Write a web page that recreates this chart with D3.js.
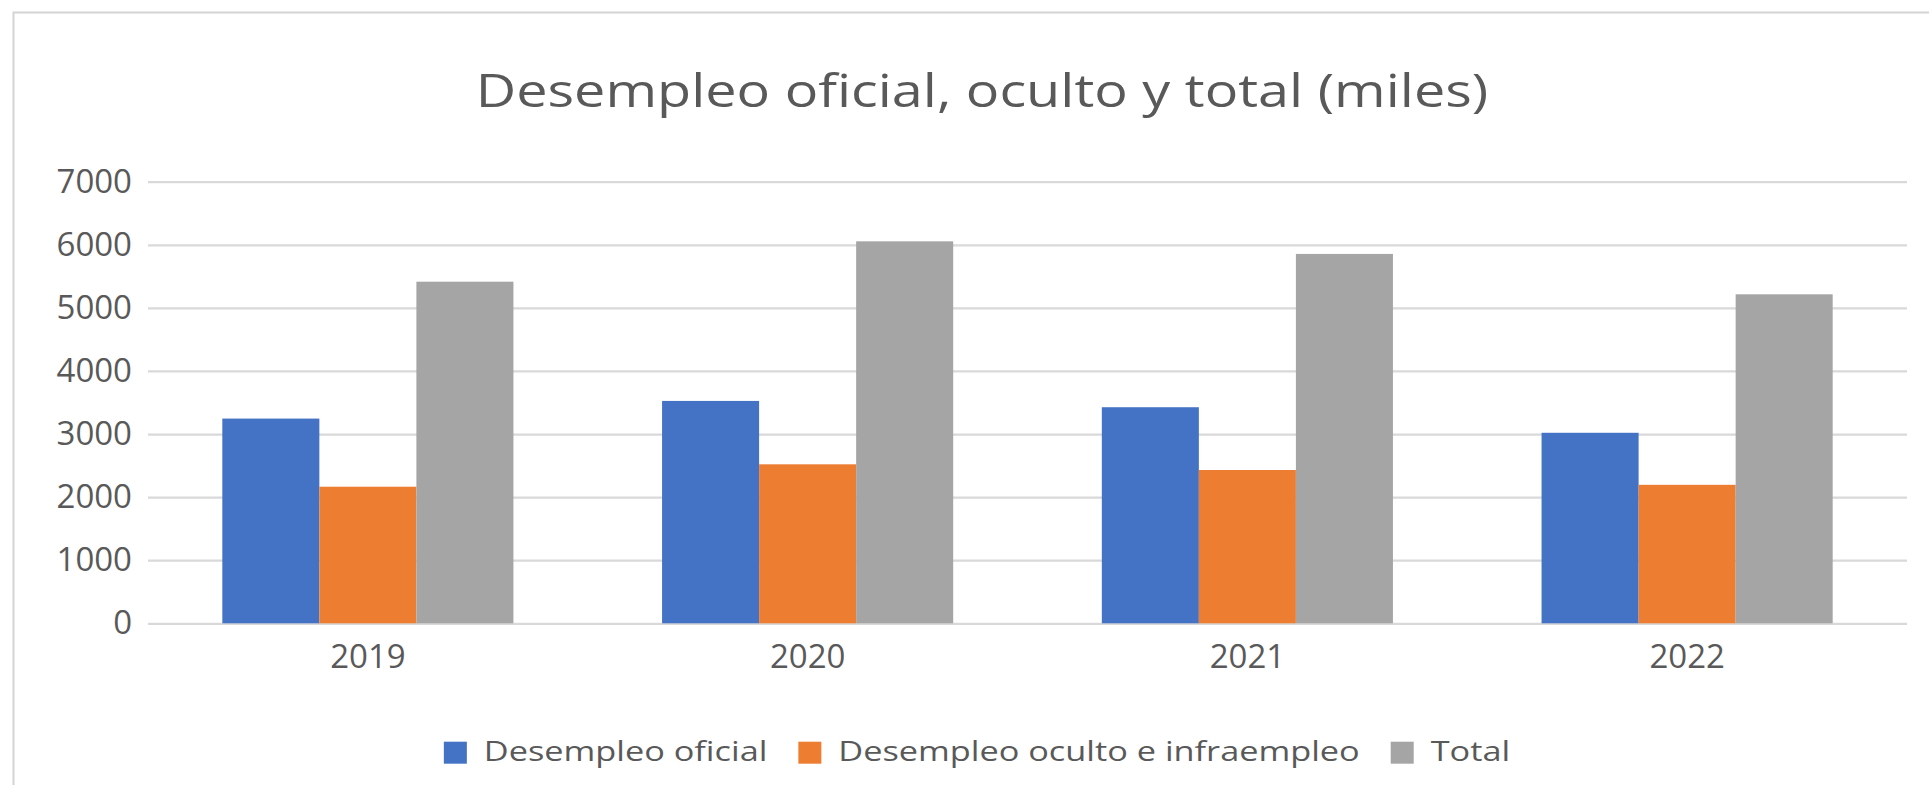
<!DOCTYPE html>
<html>
<head>
<meta charset="utf-8">
<script src="https://cdn.jsdelivr.net/npm/d3@7"></script>
<style>
  html, body { margin: 0; padding: 0; background: #ffffff; }
  svg { display: block; font-family: "Open Sans", "Noto Sans", sans-serif; }
</style>
</head>
<body>
<svg id="chart" width="1929" height="785"></svg>
<script>
const title = "Desempleo oficial, oculto y total (miles)";
const years = ["2019", "2020", "2021", "2022"];
const seriesNames = ["Desempleo oficial", "Desempleo oculto e infraempleo", "Total"];
const oficial = [3245, 3525, 3425, 3020];
const oculto = [2165, 2520, 2430, 2195];
const total = [5415, 6055, 5855, 5215];
const yTicks = [0, 1000, 2000, 3000, 4000, 5000, 6000, 7000];
const colors = ["#4472C4", "#ED7D31", "#A5A5A5"];

const W = 1929, H = 785;
const margin = { left: 148, right: 22, top: 181.7, bottom: 161.7 };
const svg = d3.select("#chart");

// chart frame
svg.append("rect")
  .attr("x", 13.5).attr("y", 12.5)
  .attr("width", W + 10).attr("height", H + 10)
  .attr("fill", "#ffffff").attr("stroke", "#d4d4d4").attr("stroke-width", 2);

const x0 = d3.scaleBand()
  .domain(years)
  .range([margin.left, W - margin.right])
  .paddingInner(0.338)
  .paddingOuter(0.169);
const x1 = d3.scaleBand()
  .domain(seriesNames)
  .range([0, x0.bandwidth()]);
const y = d3.scaleLinear()
  .domain([0, 7000])
  .range([H - margin.bottom, margin.top]);

// gridlines
const grid = svg.append("g")
  .attr("transform", `translate(${margin.left},0)`)
  .call(d3.axisLeft(y).tickValues(yTicks).tickSize(-(W - margin.right - margin.left)).tickFormat(""));
grid.select(".domain").remove();
grid.selectAll(".tick line").attr("stroke", "#d9d9d9").attr("stroke-width", 2.2);

// y labels
const yAx = svg.append("g")
  .attr("transform", `translate(${margin.left - 16},0)`)
  .call(d3.axisLeft(y).tickValues(yTicks).tickSize(0).tickPadding(0).tickFormat(d3.format("d")));
yAx.select(".domain").remove();
yAx.selectAll("text")
  .attr("fill", "#595959")
  .attr("font-size", 33)
  .attr("font-family", "'Open Sans', sans-serif");

// bars
const data = years.map((yr, i) => ({ year: yr, vals: [oficial[i], oculto[i], total[i]] }));
const groups = svg.append("g").selectAll("g")
  .data(data).join("g")
  .attr("transform", d => `translate(${x0(d.year)},0)`);
groups.selectAll("rect")
  .data(d => d.vals.map((v, k) => ({ key: seriesNames[k], v, k })))
  .join("rect")
  .attr("x", d => x1(d.key))
  .attr("width", x1.bandwidth())
  .attr("y", d => y(d.v))
  .attr("height", d => y(0) - y(d.v))
  .attr("fill", d => colors[d.k]);

// x axis labels
const xAx = svg.append("g")
  .attr("transform", `translate(0,${y(0)})`)
  .call(d3.axisBottom(x0).tickSize(0).tickPadding(21));
xAx.select(".domain").remove();
xAx.selectAll("text")
  .attr("fill", "#595959")
  .attr("font-size", 33)
  .attr("font-family", "'Open Sans', sans-serif");

// title (reference text is horizontally stretched)
svg.append("g")
  .attr("transform", "translate(982,106.7) scale(1.24,1)")
  .append("text")
  .attr("x", 0).attr("y", 0)
  .attr("text-anchor", "middle")
  .attr("fill", "#595959")
  .attr("font-size", 45)
  .text(title);

// legend
const legSX = 1.27;
const legend = svg.append("g");
let cx = 0;
seriesNames.forEach((name, k) => {
  const item = legend.append("g").attr("transform", `translate(${cx},0)`);
  item.append("rect").attr("x", 0).attr("y", -19).attr("width", 23).attr("height", 22).attr("fill", colors[k]);
  const t = item.append("g").attr("transform", `translate(40,0) scale(${legSX},1)`)
    .append("text").attr("x", 0).attr("y", 0)
    .attr("fill", "#595959").attr("font-size", 27).text(name);
  cx += 40 + t.node().getComputedTextLength() * legSX + 31;
});
const legW = cx - 31;
legend.attr("transform", `translate(${977 - legW / 2},760.7)`);
</script>
</body>
</html>
